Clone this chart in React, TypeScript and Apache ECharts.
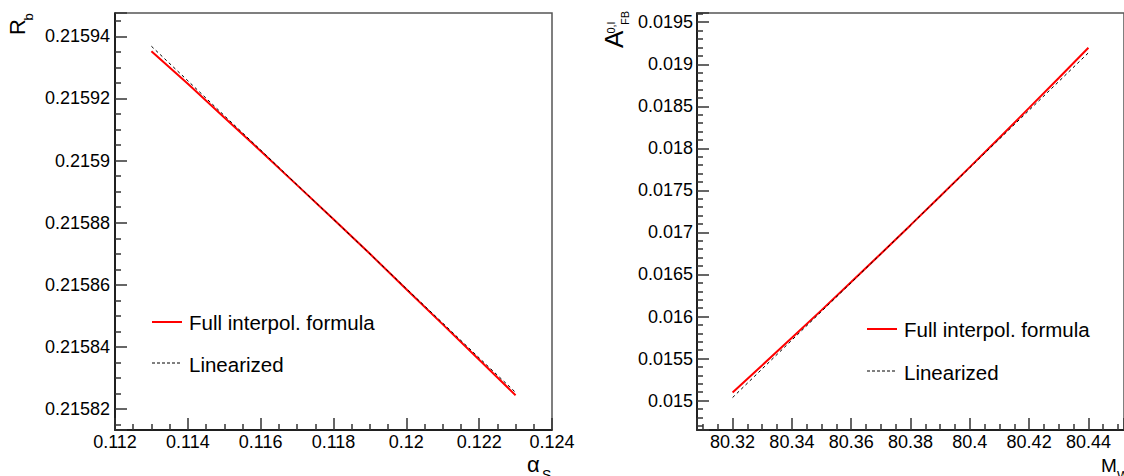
import React, { useEffect, useRef } from "react";
import * as echarts from "echarts";

// ---- data ----
const alphaS = [0.113, 0.114, 0.115, 0.116, 0.117, 0.118, 0.119, 0.12, 0.121, 0.122, 0.123];
const rbFull = [0.2159352, 0.2159247, 0.2159139, 0.2159031, 0.2158921, 0.2158811, 0.21587, 0.2158586, 0.2158473, 0.2158359, 0.2158245];
const rbLinear = [0.2159368, 0.2159257, 0.2159145, 0.2159034, 0.2158922, 0.2158811, 0.21587, 0.2158588, 0.2158477, 0.2158365, 0.2158254];

const mW = [80.32, 80.33, 80.34, 80.35, 80.36, 80.37, 80.38, 80.39, 80.4, 80.41, 80.42, 80.43, 80.44];
const afbFull = [0.015096, 0.01542, 0.015747, 0.016076, 0.01641, 0.016747, 0.0170865, 0.01743, 0.017777, 0.018127, 0.018481, 0.018837, 0.019197];
const afbLinear = [0.015036, 0.0153778, 0.0157195, 0.0160613, 0.016403, 0.0167448, 0.0170865, 0.0174283, 0.01777, 0.0181118, 0.0184535, 0.0187953, 0.019137];

const seriesNames = ["Full interpol. formula", "Linearized"];

const FONT = "'Liberation Sans', Arial, Helvetica, sans-serif";

function axisCommon(minorSplit: number, labelMargin: number) {
  return {
    type: "value" as const,
    axisLine: { show: true, onZero: false, lineStyle: { color: "#000", width: 1.5 } },
    axisTick: { show: true, inside: true, length: 12, lineStyle: { color: "#333", width: 1.5 } },
    minorTick: { show: true, splitNumber: minorSplit, length: 6, lineStyle: { color: "#333", width: 1.5 } },
    splitLine: { show: false },
    minorSplitLine: { show: false },
    axisLabel: { color: "#000", fontSize: 18, fontFamily: FONT, margin: labelMargin },
  };
}

export default function App() {
  const ref = useRef<HTMLDivElement>(null);
  useEffect(() => {
    document.body.style.margin = "0";
    document.body.style.overflow = "hidden";
    if (!ref.current) return;
    const chart = echarts.init(ref.current, undefined, { renderer: "svg" });
    const txt = (text: string, x: number, y: number, size: number, rot = 0, align = "left") => ({
      type: "text",
      x,
      y,
      rotation: rot,
      style: { text, fill: "#000", fontSize: size, fontFamily: FONT, align, verticalAlign: "middle" },
      z: 10,
    });
    const option: any = {
      animation: false,
      backgroundColor: "#fff",
      textStyle: { fontFamily: FONT },
      grid: [
        { left: 115, top: 13, width: 437, height: 417, show: true, borderColor: "#555", borderWidth: 1.5, backgroundColor: "transparent" },
        { left: 697, top: 13, width: 437, height: 417, show: true, borderColor: "#555", borderWidth: 1.5, backgroundColor: "transparent" },
      ],
      xAxis: [
        {
          ...axisCommon(4, 3),
          gridIndex: 0,
          min: 0.112,
          max: 0.124,
          interval: 0.002,
        },
        {
          ...axisCommon(4, 3),
          gridIndex: 1,
          min: 80.308,
          max: 80.452,
          minInterval: 0.02,
          maxInterval: 0.02,
          axisLabel: { color: "#000", fontSize: 18, fontFamily: FONT, margin: 3, showMinLabel: false, showMaxLabel: false },
        },
      ],
      yAxis: [
        {
          ...axisCommon(4, 5),
          gridIndex: 0,
          min: 0.2158133,
          max: 0.2159475,
          minInterval: 0.00002,
          maxInterval: 0.00002,
          axisLabel: { color: "#000", fontSize: 18, fontFamily: FONT, margin: 5, showMinLabel: false, showMaxLabel: false },
        },
        {
          ...axisCommon(5, 4),
          gridIndex: 1,
          min: 0.01465,
          max: 0.01961,
          minInterval: 0.0005,
          maxInterval: 0.0005,
          axisLabel: { color: "#000", fontSize: 18, fontFamily: FONT, margin: 4, showMinLabel: false, showMaxLabel: false },
        },
      ],
      series: [
        {
          name: seriesNames[0],
          type: "line",
          xAxisIndex: 0,
          yAxisIndex: 0,
          data: alphaS.map((x, i) => [x, rbFull[i]]),
          symbol: "none",
          lineStyle: { color: "#ff0000", width: 2 },
          z: 3,
        },
        {
          name: seriesNames[1],
          type: "line",
          xAxisIndex: 0,
          yAxisIndex: 0,
          data: alphaS.map((x, i) => [x, rbLinear[i]]),
          symbol: "none",
          lineStyle: { color: "#000", width: 1, type: [3, 3] },
          z: 4,
        },
        {
          name: seriesNames[0],
          type: "line",
          xAxisIndex: 1,
          yAxisIndex: 1,
          data: mW.map((x, i) => [x, afbFull[i]]),
          symbol: "none",
          lineStyle: { color: "#ff0000", width: 2 },
          z: 3,
        },
        {
          name: seriesNames[1],
          type: "line",
          xAxisIndex: 1,
          yAxisIndex: 1,
          data: mW.map((x, i) => [x, afbLinear[i]]),
          symbol: "none",
          lineStyle: { color: "#000", width: 1, type: [3, 3] },
          z: 4,
        },
      ],
      graphic: [
        // left legend
        { type: "line", shape: { x1: 152, y1: 322, x2: 182, y2: 322 }, style: { stroke: "#ff0000", lineWidth: 2 } },
        txt(seriesNames[0], 189, 322, 20.5),
        { type: "line", shape: { x1: 152, y1: 363, x2: 180, y2: 363 }, style: { stroke: "#000", lineWidth: 1, lineDash: [3, 2] } },
        txt(seriesNames[1], 189, 364, 20.5),
        // right legend
        { type: "line", shape: { x1: 867, y1: 329, x2: 897, y2: 329 }, style: { stroke: "#ff0000", lineWidth: 2 } },
        txt(seriesNames[0], 904, 329, 20.5),
        { type: "line", shape: { x1: 867, y1: 371, x2: 895, y2: 371 }, style: { stroke: "#000", lineWidth: 1, lineDash: [3, 2] } },
        txt(seriesNames[1], 904, 372, 20.5),
        // axis titles
        txt("R", 17.7, 35, 22, Math.PI / 2),
        txt("b", 28.5, 20.5, 13, Math.PI / 2),
        txt("A", 614, 48, 26, Math.PI / 2),
        txt("0,l", 611, 33.5, 11, Math.PI / 2),
        txt("FB", 625, 25, 11, Math.PI / 2),
        txt("α", 527, 464.5, 22),
        txt("S", 542, 475, 14),
        txt("M", 1101, 465.5, 19),
        txt("W", 1117, 475.5, 13),
      ],
    };
    chart.setOption(option);
    return () => chart.dispose();
  }, []);
  return <div ref={ref} style={{ width: 1124, height: 476 }} />;
}
